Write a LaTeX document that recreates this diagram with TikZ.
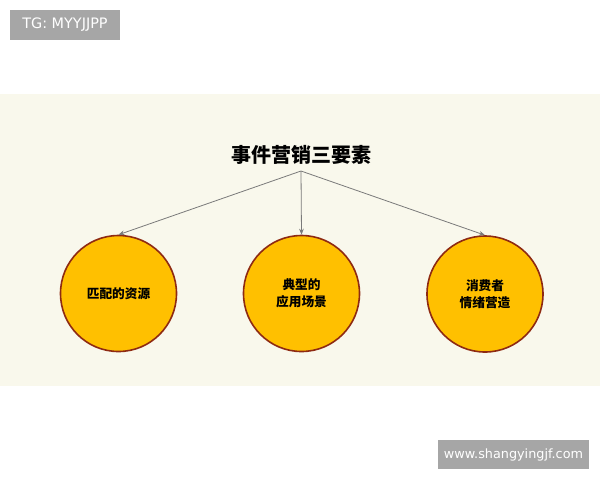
\documentclass[tikz,border=0pt]{standalone}
\usepackage{fontspec}
\setsansfont{DejaVu Sans}
\newfontfamily\cjk{Noto Sans CJK SC}
\usetikzlibrary{arrows.meta}
\definecolor{bandbg}{HTML}{F9F8EC}
\definecolor{ballfill}{HTML}{FFC000}
\definecolor{ballrim}{HTML}{8E2A12}
\definecolor{taggray}{HTML}{A6A6A6}
\definecolor{linkgray}{HTML}{7A7A7A}

\begin{document}
\begin{tikzpicture}[x=0.75pt,y=-0.75pt,
  ball/.style={circle,draw=ballrim,fill=ballfill,line width=1.2pt,minimum size=87pt,inner sep=0pt,align=center,
    font=\cjk\bfseries\fontsize{9.5}{12.8}\selectfont},
  tag/.style={fill=taggray,text=white,inner sep=0pt},
  link/.style={draw=linkgray,line width=0.6pt,-{Stealth[length=4.5pt,width=3.5pt]}}]
% outline
\fill[white] (0,0) rectangle (600,480);
\fill[bandbg] (0,94) rectangle (600,386);
\node[tag,minimum width=82.5pt,minimum height=22.5pt,font=\sffamily\fontsize{10.8}{12}\selectfont] (tg) at (65,25) {TG: MYYJJPP};
\node[tag,minimum width=113pt,minimum height=22pt,font=\sffamily\fontsize{9.6}{11}\selectfont] (site) at (513.5,454.5) {www.shangyingjf.com};
% title and circles
\node[font=\cjk\bfseries\fontsize{15}{18}\selectfont] (title) at (301,155) {事件营销三要素};
\coordinate (apex) at (301,171);
\node[ball] (res) at (118.5,293.5) {匹配的资源};
\node[ball] (scene) at (301.5,293.5) {典型的\\应用场景};
\node[ball] (mood) at (485,294) {消费者\\情绪营造};
\draw[link] (apex) -- (res.north);
\draw[link] (apex) -- (scene.north);
\draw[link] (apex) -- (mood.north);
\end{tikzpicture}
\end{document}
